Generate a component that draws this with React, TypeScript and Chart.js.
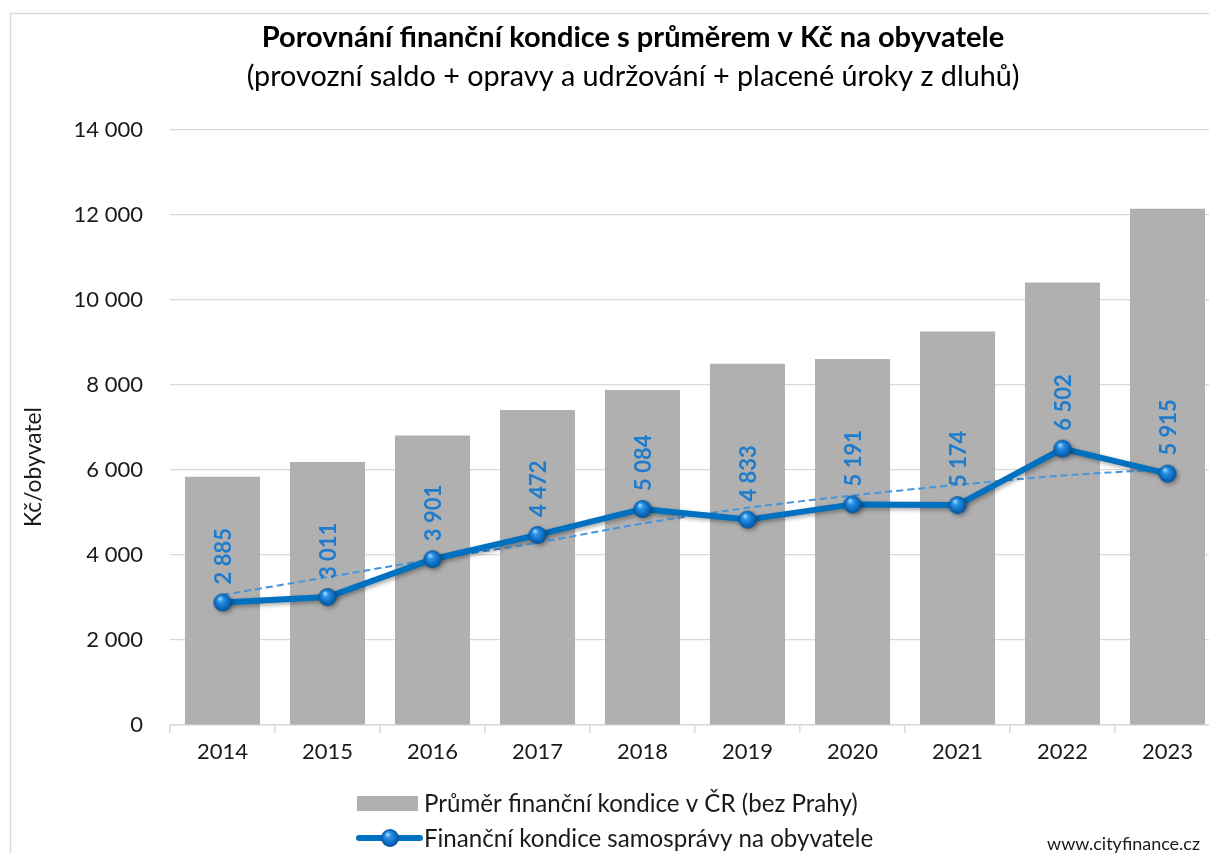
import React, { useEffect, useRef } from "react";
import { Chart, registerables } from "chart.js";

Chart.register(...registerables);

// ---- data ----
const years = ["2014", "2015", "2016", "2017", "2018", "2019", "2020", "2021", "2022", "2023"];
const averageCR = [5840, 6190, 6810, 7410, 7880, 8500, 8610, 9260, 10410, 12150];
const municipality = [2885, 3011, 3901, 4472, 5084, 4833, 5191, 5174, 6502, 5915];
const trendValues = [3060, 3480, 3900, 4290, 4740, 5110, 5400, 5650, 5870, 6020];
const yMin = 0;
const yMax = 14000;
const yStep = 2000;

const titleText = "Porovnání finanční kondice s průměrem v Kč na obyvatele";
const subtitleText = "(provozní saldo + opravy a udržování + placené úroky z dluhů)";
const yAxisTitle = "Kč/obyvatel";
const legendBars = "Průměr finanční kondice v ČR (bez Prahy)";
const legendLine = "Finanční kondice samosprávy na obyvatele";
const sourceText = "www.cityfinance.cz";

const FONT = "Lato, 'Open Sans', 'DejaVu Sans', sans-serif";
const BAR_COLOR = "#b0b0b0";
const LINE_COLOR = "#0070c0";
const LABEL_COLOR = "#1f7ccc";
const TREND_COLOR = "#4396dc";
const GRID = "#d9d9d9";
const TEXT = "#1a1a1a";

function fmt(v: number): string {
  return String(Math.round(v)).replace(/\B(?=(\d{3})+(?!\d))/g, " ");
}

function fitSize(ctx: CanvasRenderingContext2D, text: string, weight: string, width: number): number {
  ctx.font = `${weight} 100px ${FONT}`;
  const w = ctx.measureText(text).width;
  return (100 * width) / w;
}

function makeSphere(r: number): HTMLCanvasElement {
  const c = document.createElement("canvas");
  const s = Math.ceil(r * 2 + 2);
  c.width = s;
  c.height = s;
  const g = c.getContext("2d")!;
  const cx = s / 2;
  const cy = s / 2;
  const grad = g.createRadialGradient(cx - r * 0.3, cy - r * 0.45, r * 0.05, cx, cy, r);
  grad.addColorStop(0, "#a8dcff");
  grad.addColorStop(0.3, "#2a92e4");
  grad.addColorStop(0.75, "#0a6bc0");
  grad.addColorStop(1, "#064f8f");
  g.fillStyle = grad;
  g.beginPath();
  g.arc(cx, cy, r, 0, Math.PI * 2);
  g.fill();
  return c;
}

export default function App() {
  const canvasRef = useRef<HTMLCanvasElement | null>(null);

  useEffect(() => {
    const canvas = canvasRef.current;
    if (!canvas) return;
    const sphere = makeSphere(9);

    const shadowPlugin = {
      id: "lineShadow",
      beforeDatasetDraw(chart: any, args: any) {
        if (args.index === 1) {
          const ctx = chart.ctx;
          ctx.save();
          ctx.shadowColor = "rgba(0,0,0,0.35)";
          ctx.shadowBlur = 4;
          ctx.shadowOffsetX = 2;
          ctx.shadowOffsetY = 2;
        }
      },
      afterDatasetDraw(chart: any, args: any) {
        if (args.index === 1) chart.ctx.restore();
      },
    };

    const labelsPlugin = {
      id: "pointLabels",
      afterDatasetsDraw(chart: any) {
        const ctx = chart.ctx as CanvasRenderingContext2D;
        const meta = chart.getDatasetMeta(1);
        ctx.save();
        ctx.fillStyle = LABEL_COLOR;
        ctx.font = `bold 22px ${FONT}`;
        ctx.textAlign = "left";
        ctx.textBaseline = "middle";
        meta.data.forEach((el: any, i: number) => {
          ctx.save();
          ctx.translate(el.x + 1, el.y - 18);
          ctx.rotate(-Math.PI / 2);
          ctx.fillText(fmt(municipality[i]), 0, 0);
          ctx.restore();
        });
        ctx.restore();
      },
    };

    const decorPlugin = {
      id: "decor",
      afterDraw(chart: any) {
        const ctx = chart.ctx as CanvasRenderingContext2D;
        ctx.save();
        // chart border
        ctx.strokeStyle = GRID;
        ctx.lineWidth = 1.5;
        ctx.beginPath();
        ctx.moveTo(10.5, 853);
        ctx.lineTo(10.5, 13.5);
        ctx.lineTo(1250, 13.5);
        ctx.stroke();

        // titles
        ctx.fillStyle = "#000000";
        ctx.textAlign = "center";
        ctx.textBaseline = "middle";
        const ts = fitSize(ctx, titleText, "bold", 743);
        ctx.font = `bold ${ts}px ${FONT}`;
        ctx.fillText(titleText, 633, 38);
        const ss = fitSize(ctx, subtitleText, "normal", 773);
        ctx.font = `normal ${ss}px ${FONT}`;
        ctx.fillText(subtitleText, 633, 77);

        // y axis title
        const ys = fitSize(ctx, yAxisTitle, "normal", 120);
        ctx.font = `normal ${ys}px ${FONT}`;
        ctx.fillStyle = TEXT;
        ctx.save();
        ctx.translate(34, 467);
        ctx.rotate(-Math.PI / 2);
        ctx.fillText(yAxisTitle, 0, 0);
        ctx.restore();

        // legend
        const ls = fitSize(ctx, legendBars, "normal", 434);
        ctx.font = `normal ${ls}px ${FONT}`;
        ctx.textAlign = "left";
        ctx.fillStyle = BAR_COLOR;
        ctx.fillRect(357, 796, 61, 15);
        ctx.fillStyle = TEXT;
        ctx.fillText(legendBars, 424, 804);

        ctx.strokeStyle = LINE_COLOR;
        ctx.lineWidth = 6;
        ctx.lineCap = "round";
        ctx.beginPath();
        ctx.moveTo(359, 838);
        ctx.lineTo(420, 838);
        ctx.stroke();
        ctx.drawImage(sphere, 390 - sphere.width / 2, 838 - sphere.height / 2);
        ctx.fillStyle = TEXT;
        ctx.fillText(legendLine, 424, 839);

        // source
        const ws = fitSize(ctx, sourceText, "normal", 153);
        ctx.font = `normal ${ws}px ${FONT}`;
        ctx.textAlign = "right";
        ctx.fillText(sourceText, 1200, 844);
        ctx.restore();
      },
    };

    const chart = new Chart(canvas, {
      type: "bar",
      data: {
        labels: years,
        datasets: [
          {
            type: "bar",
            label: legendBars,
            data: averageCR,
            backgroundColor: BAR_COLOR,
            borderWidth: 0,
            barPercentage: 0.715,
            categoryPercentage: 1.0,
            order: 3,
          },
          {
            type: "line",
            label: legendLine,
            data: municipality,
            borderColor: LINE_COLOR,
            borderWidth: 6,
            pointStyle: sphere as any,
            pointRadius: 9,
            tension: 0,
            order: 1,
          },
          {
            type: "line",
            label: "trend",
            data: trendValues,
            borderColor: TREND_COLOR,
            borderWidth: 2,
            borderDash: [7, 4],
            pointRadius: 0,
            tension: 0.3,
            order: 2,
          },
        ],
      } as any,
      options: {
        animation: false,
        responsive: false,
        devicePixelRatio: 1,
        layout: { padding: { top: 130, right: 30, left: 0, bottom: 0 } },
        plugins: {
          legend: { display: false },
          title: { display: false },
          tooltip: { enabled: false },
        },
        scales: {
          x: {
            type: "category",
            offset: true,
            grid: {
              offset: true,
              drawOnChartArea: false,
              drawTicks: true,
              tickLength: 8,
              color: GRID,
              lineWidth: 1.5,
            },
            border: { display: true, color: GRID, width: 1.5 },
            ticks: {
              font: { family: FONT, size: 22 },
              color: TEXT,
              padding: 6,
              maxRotation: 0,
            },
            afterFit: (s: any) => {
              s.height = 128;
            },
          },
          y: {
            min: yMin,
            max: yMax,
            ticks: {
              stepSize: yStep,
              font: { family: FONT, size: 22 },
              color: TEXT,
              padding: 27,
              callback: (v: any) => fmt(Number(v)),
            },
            grid: { color: GRID, drawTicks: false, lineWidth: 1.2 },
            border: { display: false },
            afterFit: (s: any) => {
              s.width = 170;
            },
          },
        },
      } as any,
      plugins: [shadowPlugin, labelsPlugin, decorPlugin],
    });

    return () => chart.destroy();
  }, []);

  return (
    <div
      style={{
        position: "fixed",
        left: 0,
        top: 0,
        width: 1209,
        height: 853,
        overflow: "hidden",
        background: "#ffffff",
      }}
    >
      <canvas ref={canvasRef} width={1250} height={853} style={{ display: "block" }} />
    </div>
  );
}
